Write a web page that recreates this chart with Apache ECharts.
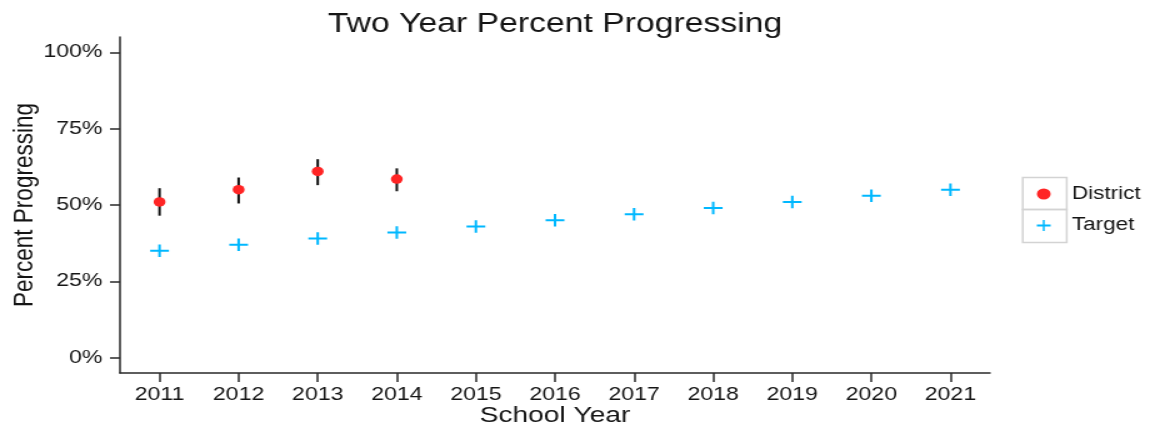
<!DOCTYPE html>
<html>
<head>
<meta charset="utf-8">
<script src="https://cdn.jsdelivr.net/npm/echarts@6/dist/echarts.min.js"></script>
<style>
  html, body { margin: 0; padding: 0; overflow: hidden; background: #fff; width: 1150px; height: 426px; }
  #chart { width: 980px; height: 426px; transform: scaleX(1.25); transform-origin: 0 0; }
</style>
</head>
<body>
<div id="chart"></div>
<script>
// ---- data ----
const years = ['2011','2012','2013','2014','2015','2016','2017','2018','2019','2020','2021'];
const districtValues = [51, 55, 61, 58.5];
const districtLow = [46.5, 50.5, 56.5, 54.5];
const districtHigh = [55.5, 59, 65, 62];
const targetValues = [35, 37, 39, 41, 43, 45, 47, 49, 51, 53, 55];
const yTickValues = [0, 25, 50, 75, 100];

const FONT = "'Liberation Sans', Arial, Helvetica, sans-serif";
const TXT = '#151515';
const AXIS = '#2a2a2a';
const crossPath = 'path://M0,4.2H4.33V0H5.67V4.2H10V5.8H5.67V10H4.33V5.8H0Z';

const errData = districtValues.map((v, i) => [i, districtLow[i], districtHigh[i]]);

const chart = echarts.init(document.getElementById('chart'));
chart.setOption({
  animation: false,
  backgroundColor: '#fff',
  textStyle: { fontFamily: FONT },
  title: {
    text: 'Two Year Percent Progressing',
    left: 444, top: 11, textAlign: 'center', padding: 0,
    textStyle: { fontSize: 27, fontWeight: 'normal', color: TXT, fontFamily: FONT }
  },
  grid: { left: 96, right: 188, top: 37, bottom: 53, outerBoundsMode: 'none' },
  legend: {
    orient: 'vertical', left: 829.5, top: 185, padding: 0,
    itemWidth: 35, itemHeight: 11, itemGap: 13.5,
    data: ['District', 'Target'],
    textStyle: { fontSize: 18, color: TXT, fontFamily: FONT }
  },
  graphic: [
    { type: 'rect', shape: { x: 818.2, y: 177.5, width: 35.2, height: 32 }, style: { fill: 'none', stroke: '#d3d3d3', lineWidth: 1.5 }, z: 0 },
    { type: 'rect', shape: { x: 818.2, y: 209.5, width: 35.2, height: 33 }, style: { fill: 'none', stroke: '#d3d3d3', lineWidth: 1.5 }, z: 0 }
  ],
  xAxis: {
    type: 'category', data: years, boundaryGap: true,
    name: 'School Year', nameLocation: 'middle', nameGap: 31, nameMoveOverlap: false,
    nameTextStyle: { fontSize: 22.5, color: TXT, fontFamily: FONT },
    axisLine: { show: true, onZero: false, lineStyle: { color: AXIS, width: 1.5 } },
    axisTick: { show: true, alignWithLabel: true, length: 9, lineStyle: { color: AXIS, width: 1.5 } },
    axisLabel: { fontSize: 18.5, color: TXT, margin: 12, fontFamily: FONT, interval: 0 },
    splitLine: { show: false }
  },
  yAxis: {
    type: 'value', min: -5, max: 105,
    name: 'Percent Progressing', nameLocation: 'middle', nameRotate: 90, nameGap: 65, nameMoveOverlap: false,
    nameTextStyle: { fontSize: 22.5, color: TXT, fontFamily: FONT },
    axisLine: { show: true, lineStyle: { color: AXIS, width: 1.5 } },
    axisTick: { show: true, length: 8, customValues: yTickValues, lineStyle: { color: AXIS, width: 1.5 } },
    axisLabel: { fontSize: 18.5, color: TXT, margin: 14, fontFamily: FONT, customValues: yTickValues, formatter: '{value}%' },
    splitLine: { show: false }
  },
  series: [
    {
      type: 'custom', name: 'err', z: 1,
      data: errData,
      encode: { x: 0, y: [1, 2] },
      renderItem: function (params, api) {
        const x = api.value(0);
        const p1 = api.coord([x, api.value(1)]);
        const p2 = api.coord([x, api.value(2)]);
        return { type: 'line', shape: { x1: p1[0], y1: p1[1], x2: p2[0], y2: p2[1] }, style: { stroke: '#111', lineWidth: 2 } };
      }
    },
    {
      type: 'scatter', name: 'District', z: 3,
      data: districtValues,
      symbol: 'circle', symbolSize: 9.5,
      itemStyle: { color: '#ff2424', opacity: 1 }
    },
    {
      type: 'scatter', name: 'Target', z: 3,
      data: targetValues,
      symbol: crossPath, symbolSize: [15, 12.5],
      itemStyle: { color: '#00b8ff', opacity: 1 }
    }
  ]
});
</script>
</body>
</html>
